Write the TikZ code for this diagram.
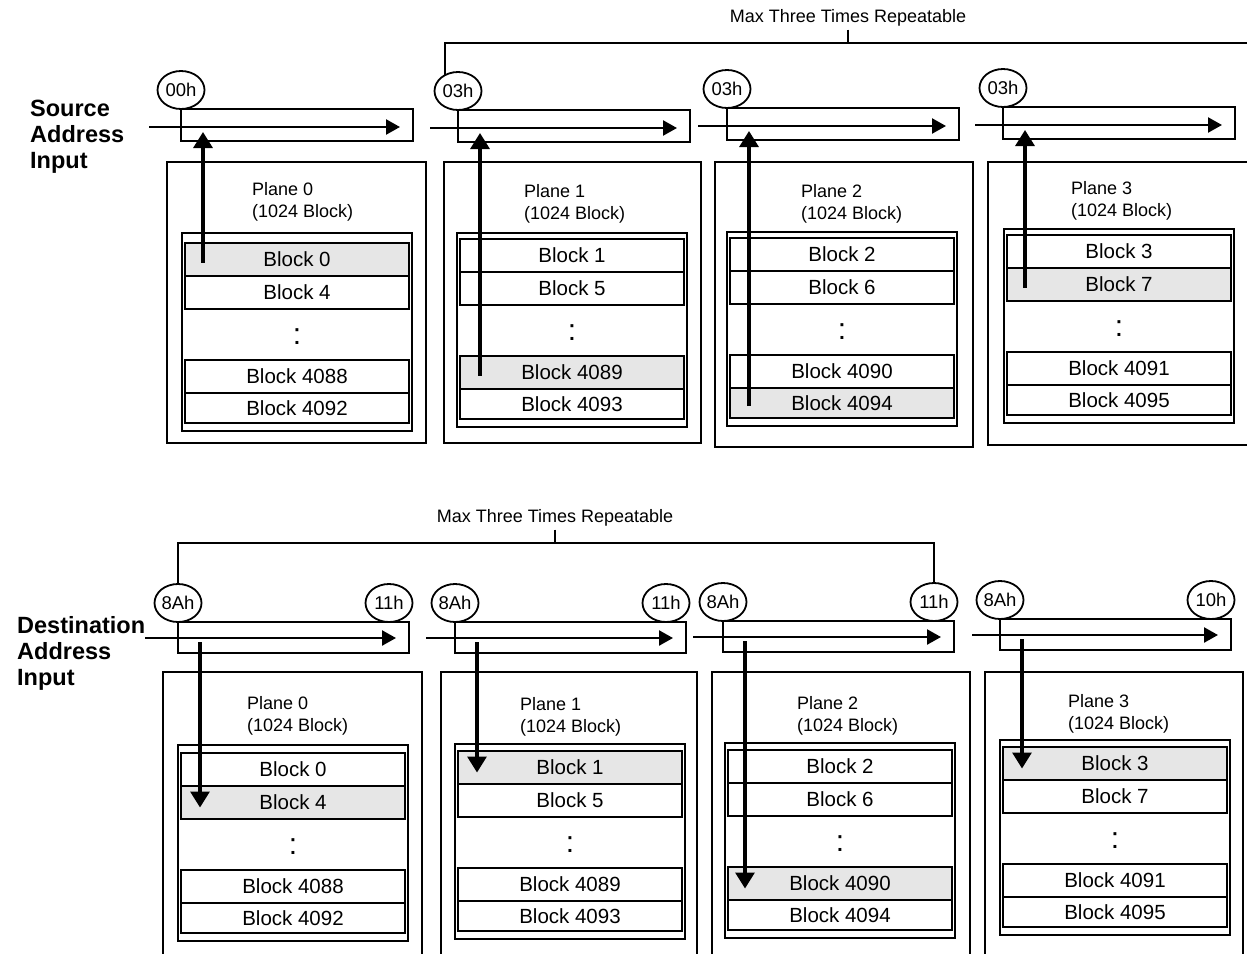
\documentclass[tikz,border=0pt]{standalone}
\usepackage{fontspec}
\setmainfont{Liberation Sans}
\usepackage{tikz}
\usetikzlibrary{positioning,arrows.meta,calc,shapes.geometric}
\definecolor{BLKgray}{HTML}{E6E6E6}
\tikzset{
  planebox/.style={draw, line width=2pt, inner sep=0pt, outer sep=0pt, anchor=north west},
  innerbox/.style={draw, line width=2pt, inner sep=0pt, outer sep=0pt, anchor=north west, minimum width=230pt},
  blockrow/.style={draw, line width=2pt, fill=white, inner sep=0pt, outer sep=0pt, anchor=north west, minimum width=224pt, font=\fontsize{20.5}{24}\selectfont},
  blockhi/.style={blockrow, fill=BLKgray},
  addrbox/.style={draw, line width=2pt, inner sep=0pt, outer sep=0pt, anchor=north west, minimum width=232pt, minimum height=32pt},
  cmdoval/.style={ellipse, draw, line width=1.8pt, inner sep=0pt, outer sep=0pt, minimum width=47pt, minimum height=38pt, anchor=south, font=\fontsize{18.5}{20}\selectfont},
  planelbl/.style={align=left, anchor=north west, inner sep=0pt, font=\fontsize{18}{22}\selectfont},
  sidelbl/.style={align=left, anchor=north west, inner sep=0pt, font=\bfseries\fontsize{23.5}{26}\selectfont},
  replbl/.style={inner sep=0pt, font=\fontsize{18}{22}\selectfont},
  dotlbl/.style={inner sep=0pt, font=\fontsize{30}{30}\selectfont},
  addrarr/.style={-{Triangle[length=14pt, width=15pt]}, line width=2.4pt},
  selarr/.style={-{Triangle[length=16pt, width=19pt]}, line width=3.2pt},
  brkt/.style={line width=2pt}
}
\begin{document}
\begin{tikzpicture}[x=1pt, y=-1pt]
  \useasboundingbox (0,0) rectangle (1247,953);
  \fill[white] (0,0) rectangle (1247,953);
  \clip (0,0) rectangle (1247,953);

  % source side
  \node[sidelbl] (srclbl) at (30,100) {Source\\Address\\Input};
  \node[replbl] (srep) at (848,18) {Max Three Times Repeatable};
  \foreach \p/\ox/\ow/\oh/\lx/\ly/\ix/\itop/\ty/\ax/\ay/\sx/\hi/\cmd in {
      0/167/259/281/252/182/182/233/243/181/109/149/1/00h,
      1/444/257/281/524/184/457/233/239/458/110/430/3/03h,
      2/715/258/285/801/184/727/232/238/727/108/698/4/03h,
      3/988/280/283/1071/181/1004/229/235/1003/107/975/2/03h}{
    \node[planebox, minimum width=\ow, minimum height=\oh] (s\p) at (\ox,162) {};
    \node[planelbl] (s\p lbl) at (\lx,\ly) {Plane \p\\(1024 Block)};
    \pgfmathsetmacro\ih{\ty+188-\itop}
    \node[innerbox, minimum height=\ih] (s\p in) at (\ix,\itop) {};
    \foreach \r/\dy/\rh/\bn in {1/0/33/\p, 2/33/33/\p+4, 3/117/33/\p+4088, 4/150/30/\p+4092}{
      \pgfmathtruncatemacro\blk{\bn}
      \ifnum\r=\hi\def\rowsty{blockhi}\else\def\rowsty{blockrow}\fi
      \node[\rowsty, minimum height=\rh] (s\p b\r) at (\ix+3,\ty+\dy) {Block \blk};
    }
    \node[dotlbl] (s\p dot) at (\ix+115,\ty+94) {:};
    \node[addrbox] (s\p addr) at (\ax,\ay) {};
    \node[cmdoval] (s\p cmd) at (s\p addr.north west) {\cmd};
    \coordinate (s\p start) at (\sx,\ay+18);
    \draw[addrarr] (s\p start) -- ($(s\p addr.east |- s\p start)+(-13,0)$);
    \coordinate (s\p tip) at (\ax+22,\ay+23);
    \draw[selarr] ($(s\p tip |- s\p b\hi.center)+(0,3)$) -- (s\p tip);
  }
  \coordinate (sbar) at (1250,43);
  \draw[brkt] (s1cmd.130) |- (sbar);
  \draw[brkt] ([yshift=-3pt]srep.south) -- (srep.south |- sbar);

  % destination side
  \node[sidelbl] (dstlbl) at (17,616) {Destination\\Address\\Input};
  \node[replbl] (drep) at (555,518) {Max Three Times Repeatable};
  \foreach \p/\ox/\ow/\lx/\ly/\ix/\itop/\ty/\ax/\ay/\sx/\hi/\ec in {
      0/163/259/247/696/178/745/753/178/622/145/2/11h,
      1/441/256/520/697/455/744/751/455/622/426/1/11h,
      2/712/258/797/696/725/743/750/723/621/693/3/11h,
      3/985/258/1068/694/1000/740/747/1000/619/972/1/10h}{
    \node[planebox, minimum width=\ow, minimum height=300] (d\p) at (\ox,672) {};
    \node[planelbl] (d\p lbl) at (\lx,\ly) {Plane \p\\(1024 Block)};
    \pgfmathsetmacro\ih{\ty+188-\itop}
    \node[innerbox, minimum height=\ih] (d\p in) at (\ix,\itop) {};
    \foreach \r/\dy/\rh/\bn in {1/0/33/\p, 2/33/33/\p+4, 3/117/33/\p+4088, 4/150/30/\p+4092}{
      \pgfmathtruncatemacro\blk{\bn}
      \ifnum\r=\hi\def\rowsty{blockhi}\else\def\rowsty{blockrow}\fi
      \node[\rowsty, minimum height=\rh] (d\p b\r) at (\ix+3,\ty+\dy) {Block \blk};
    }
    \node[dotlbl] (d\p dot) at (\ix+115,\ty+94) {:};
    \node[addrbox, minimum width=231pt, minimum height=31pt] (d\p addr) at (\ax,\ay) {};
    \node[cmdoval] (d\p cmd) at (d\p addr.north west) {8Ah};
    \node[cmdoval] (d\p end) at ([xshift=-20pt]d\p addr.north east) {\ec};
    \coordinate (d\p start) at (\sx,\ay+16);
    \draw[addrarr] (d\p start) -- ($(d\p addr.east |- d\p start)+(-13,0)$);
    \coordinate (d\p src) at (\ax+22,\ay+20);
    \draw[selarr] (d\p src) -- ($(d\p src |- d\p b\hi.center)+(0,5)$);
  }
  \coordinate (dbar) at (555,543);
  \draw[brkt] (d0cmd.north) |- (dbar) -| (d2end.north);
  \draw[brkt] ([yshift=-3pt]drep.south) -- (dbar);
\end{tikzpicture}
\end{document}
